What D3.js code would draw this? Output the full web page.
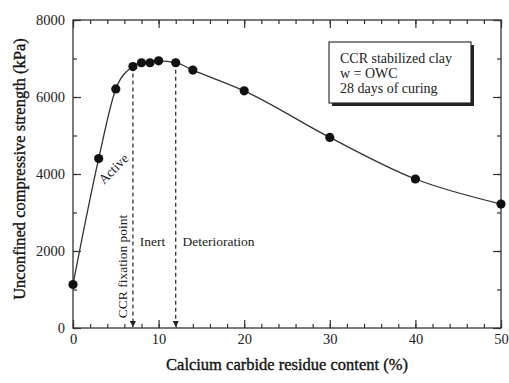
<!DOCTYPE html>
<html lang="en">
  <head>
    <meta charset="UTF-8" />
    <title>UCS vs CCR content</title>
    <script src="https://d3js.org/d3.v7.min.js"></script>
    <style>
      body {
        margin: 0;
        background: #fff;
      }
      svg text {
        font-family: "Liberation Serif", "DejaVu Serif", serif;
        fill: #222;
      }
      .tick text {
        font-size: 14.5px;
      }
      .axis-title {
        font-size: 16.5px;
        text-anchor: middle;
        fill: #111;
        stroke: #111;
        stroke-width: 0.35px;
      }
      .note {
        font-size: 13.5px;
      }
    </style>
  </head>
  <body>
    <div id="chart"></div>
    <script>
      // data
      const ccrContent = [0, 3, 5, 7, 8, 9, 10, 12, 14, 20, 30, 40, 50];
      const ucs = [1130, 4400, 6210, 6790, 6890, 6890, 6940, 6890, 6700, 6160, 4950, 3870, 3220];
      const zoneLimits = [7, 12]; // CCR fixation point, start of deterioration
      const xTicks = [0, 10, 20, 30, 40, 50];
      const yTicks = [0, 2000, 4000, 6000, 8000];
      const legendLines = ["CCR stabilized clay", "w = OWC", "28 days of curing"];

      const W = 509, H = 383;
      const plot = { left: 73, right: 501, top: 20, bottom: 328 };

      const svg = d3
        .select("#chart")
        .append("svg")
        .attr("width", W)
        .attr("height", H);

      const x = d3.scaleLinear().domain([0, 50]).range([plot.left, plot.right]);
      const y = d3.scaleLinear().domain([0, 8000]).range([plot.bottom, plot.top]);

      const minorX = d3.range(0, 51, 2);
      const minorY = d3.range(0, 8001, 1000);

      // frame
      svg
        .append("rect")
        .attr("x", plot.left)
        .attr("y", plot.top)
        .attr("width", plot.right - plot.left)
        .attr("height", plot.bottom - plot.top)
        .attr("fill", "none")
        .attr("stroke", "#333")
        .attr("stroke-width", 1.3);

      function addAxis(axis, tx, ty) {
        const g = svg
          .append("g")
          .attr("transform", `translate(${tx},${ty})`)
          .call(axis);
        g.select(".domain").remove();
        g.selectAll(".tick line").attr("stroke", "#333").attr("stroke-width", 1.2);
        return g;
      }

      // bottom
      addAxis(d3.axisBottom(x).tickValues(minorX).tickSize(-4).tickFormat(""), 0, plot.bottom);
      addAxis(d3.axisBottom(x).tickValues(xTicks).tickSize(-8).tickPadding(6).tickFormat(d3.format("d")), 0, plot.bottom);
      // top
      addAxis(d3.axisTop(x).tickValues(minorX).tickSize(-4).tickFormat(""), 0, plot.top);
      addAxis(d3.axisTop(x).tickValues(xTicks).tickSize(-8).tickFormat(""), 0, plot.top);
      // left
      addAxis(d3.axisLeft(y).tickValues(minorY).tickSize(-4).tickFormat(""), plot.left, 0);
      addAxis(d3.axisLeft(y).tickValues(yTicks).tickSize(-8).tickPadding(8).tickFormat(d3.format("d")), plot.left, 0);
      // right
      addAxis(d3.axisRight(y).tickValues(minorY).tickSize(-4).tickFormat(""), plot.right, 0);
      addAxis(d3.axisRight(y).tickValues(yTicks).tickSize(-8).tickFormat(""), plot.right, 0);

      svg.selectAll("g[font-family]").attr("font-family", null).attr("font-size", null);
      svg.selectAll(".tick text").attr("fill", "#222");

      // axis titles
      svg
        .append("text")
        .attr("class", "axis-title")
        .attr("x", (plot.left + plot.right) / 2)
        .attr("y", 370)
        .text("Calcium carbide residue content (%)");

      svg
        .append("text")
        .attr("class", "axis-title")
        .attr("transform", `translate(25,${(plot.top + plot.bottom) / 2 - 5}) rotate(-90)`)
        .text("Unconfined compressive strength (kPa)");

      // arrow marker
      svg
        .append("defs")
        .append("marker")
        .attr("id", "arrow")
        .attr("viewBox", "0 0 10 10")
        .attr("refX", 10)
        .attr("refY", 5)
        .attr("markerWidth", 6)
        .attr("markerHeight", 6)
        .attr("markerUnits", "userSpaceOnUse")
        .attr("orient", "auto")
        .append("path")
        .attr("d", "M0,0 L10,5 L0,10 Z")
        .attr("fill", "#222");

      const pts = ccrContent.map((c, i) => ({ c, v: ucs[i] }));

      // dashed zone lines
      svg
        .selectAll(".zone")
        .data(zoneLimits)
        .enter()
        .append("line")
        .attr("x1", (d) => x(d))
        .attr("x2", (d) => x(d))
        .attr("y1", (d) => y(pts.find((p) => p.c === d).v))
        .attr("y2", plot.bottom - 1)
        .attr("stroke", "#222")
        .attr("stroke-width", 1.2)
        .attr("stroke-dasharray", "4,3")
        .attr("marker-end", "url(#arrow)");

      // curve
      const line = d3
        .line()
        .x((d) => x(d.c))
        .y((d) => y(d.v))
        .curve(d3.curveMonotoneX);

      svg
        .append("path")
        .datum(pts)
        .attr("d", line)
        .attr("fill", "none")
        .attr("stroke", "#333")
        .attr("stroke-width", 1.3);

      svg
        .selectAll(".pt")
        .data(pts)
        .enter()
        .append("circle")
        .attr("cx", (d) => x(d.c))
        .attr("cy", (d) => y(d.v))
        .attr("r", 4.6)
        .attr("fill", "#111");

      // annotations
      svg
        .append("text")
        .attr("class", "note")
        .attr("text-anchor", "middle")
        .attr("transform", `translate(${x(5.1)},${y(4050)}) rotate(-45)`)
        .text("Active");

      svg
        .append("text")
        .attr("class", "note")
        .attr("text-anchor", "middle")
        .attr("transform", `translate(${x(6.3)},${y(1600)}) rotate(-90)`)
        .text("CCR fixation point");

      svg
        .append("text")
        .attr("class", "note")
        .attr("x", x(7.8))
        .attr("y", y(2130))
        .text("Inert");

      svg
        .append("text")
        .attr("class", "note")
        .attr("x", x(12.8))
        .attr("y", y(2130))
        .text("Deterioration");

      // legend box with shadow
      const box = { x: 329, y: 42, w: 142, h: 61 };
      svg
        .append("rect")
        .attr("x", box.x + 3)
        .attr("y", box.y + 3)
        .attr("width", box.w)
        .attr("height", box.h)
        .attr("fill", "#222");
      svg
        .append("rect")
        .attr("x", box.x)
        .attr("y", box.y)
        .attr("width", box.w)
        .attr("height", box.h)
        .attr("fill", "#fff")
        .attr("stroke", "#222")
        .attr("stroke-width", 1.1);
      svg
        .append("g")
        .selectAll("text")
        .data(legendLines)
        .enter()
        .append("text")
        .attr("x", box.x + 11)
        .attr("y", (d, i) => box.y + 21 + i * 14.8)
        .attr("font-size", "14px")
        .text((d) => d);
    </script>
  </body>
</html>
